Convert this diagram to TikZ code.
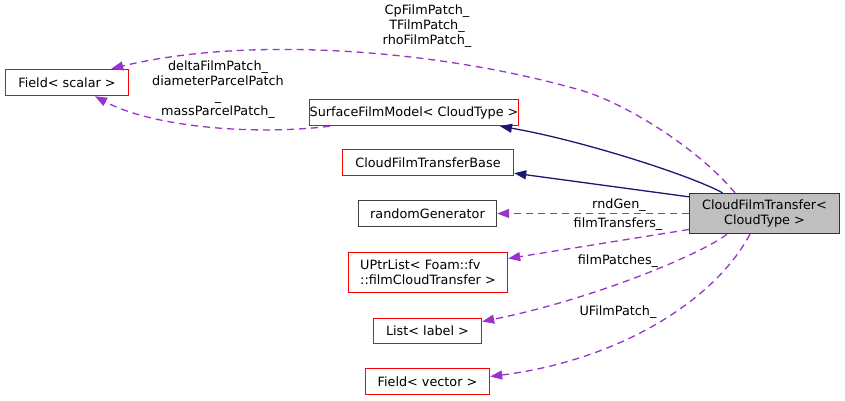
\documentclass[tikz,border=0pt]{standalone}
\usepackage{fontspec}
\setmainfont{DejaVu Sans}
\usetikzlibrary{arrows.meta}
\definecolor{edgenavy}{HTML}{191970}
\definecolor{edgepurple}{HTML}{9A32CD}
\definecolor{boxgray}{HTML}{BFBFBF}
\begin{document}
\begin{tikzpicture}[
  x=1pt, y=-1pt,
  every node/.style={font=\fontsize{12.8}{15}\selectfont, inner sep=0pt},
  classbox/.style={draw=red, line width=1.4pt, minimum height=26pt},
  plainbox/.style={draw=black!75, line width=1.4pt, minimum height=26pt},
  mainbox/.style={draw=black!80, fill=boxgray, line width=1.4pt, align=center, minimum width=150pt, minimum height=40pt},
  inherit/.style={draw=edgenavy, line width=1.3pt, -{Triangle[length=12pt,width=9pt]}},
  member/.style={draw=edgepurple, line width=1.3pt, dash pattern=on 7pt off 5pt, -{Triangle[length=12pt,width=9pt]}},
  edgelabel/.style={align=center}
]
  \useasboundingbox (0,0) rectangle (845,400);

  % Klassen
  \node[mainbox] (cloudFilm) at (764.5,213.5) {CloudFilmTransfer<\\CloudType >};
  \node[classbox, minimum width=123pt] (fieldScalar) at (67,82.5) {Field< scalar >};
  \node[classbox, minimum width=209pt] (surfaceFilm) at (414,112.5) {SurfaceFilmModel< CloudType >};
  \node[classbox, minimum width=171pt] (filmBase) at (428,162.5) {CloudFilmTransferBase};
  \node[plainbox, minimum width=138pt] (rndGen) at (427.5,213.5) {randomGenerator};
  \node[classbox, align=left, minimum width=159pt, minimum height=40pt] (uptrList) at (428,272.5) {UPtrList< Foam::fv\\::filmCloudTransfer >};
  \node[classbox, minimum width=108pt, minimum height=25pt] (listLabel) at (427.5,331) {List< label >};
  \node[classbox, minimum width=124pt] (fieldVector) at (427.5,381.5) {Field< vector >};

  % Vererbung
  \draw[inherit] ([xshift=-42pt]cloudFilm.north) .. controls (690,175) and (580,140) .. ([xshift=86pt]surfaceFilm.south);
  \draw[inherit] ([yshift=-4pt]cloudFilm.north west) -- ([yshift=3pt]filmBase.south east);

  % Mitglieder
  \draw[member] ([xshift=-29.5pt]cloudFilm.north) .. controls (695,145) and (620,101) .. (580,90)
    .. controls (440,50) and (250,35) .. ([xshift=-18pt]fieldScalar.north east);
  \draw[member] ([xshift=21pt]surfaceFilm.south west) .. controls (250,136) and (150,126) .. ([xshift=28pt]fieldScalar.south);
  \draw[member] (cloudFilm.west) -- (rndGen.east);
  \draw[member] ([yshift=-16pt]cloudFilm.west) -- ([yshift=14pt]uptrList.east);
  \draw[member] ([xshift=-37.5pt]cloudFilm.south) .. controls (700,255) and (590,300) .. ([yshift=9.5pt]listLabel.east);
  \draw[member] ([xshift=-14.5pt]cloudFilm.south) .. controls (715,300) and (620,360) .. ([yshift=5pt]fieldVector.east);

  % Beschriftungen
  \node[edgelabel] (lblTop) at (427,26) {CpFilmPatch\_\\TFilmPatch\_\\rhoFilmPatch\_};
  \node[edgelabel] (lblDelta) at (218,89.5) {deltaFilmPatch\_\\diameterParcelPatch\\\_\\massParcelPatch\_};
  \node[edgelabel] (lblRnd) at (619,205) {rndGen\_};
  \node[edgelabel] (lblTransfers) at (618,224) {filmTransfers\_};
  \node[edgelabel] (lblPatches) at (618,261) {filmPatches\_};
  \node[edgelabel] (lblU) at (618,312) {UFilmPatch\_};
\end{tikzpicture}
\end{document}
